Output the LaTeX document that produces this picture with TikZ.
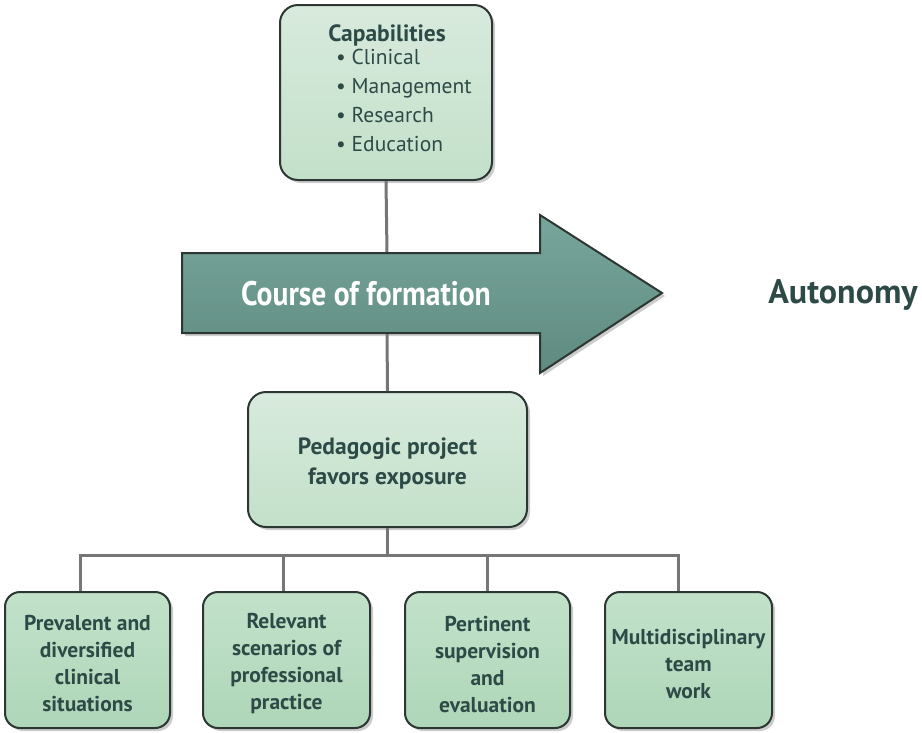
\documentclass[tikz,border=0pt]{standalone}
\usepackage{fontspec}
\setmainfont{PT Sans}
\usetikzlibrary{shadows}
\definecolor{boxtop}{HTML}{D8EADD}
\definecolor{boxbot}{HTML}{C3E0CA}
\definecolor{greentop}{HTML}{C2E2CA}
\definecolor{greenbot}{HTML}{AED6B8}
\definecolor{edge}{HTML}{2C3633}
\definecolor{ink}{HTML}{2D4A46}
\definecolor{arrowtop}{HTML}{79A69C}
\definecolor{arrowbot}{HTML}{5E8A80}
\definecolor{linegray}{HTML}{767676}
\begin{document}
\begin{tikzpicture}[x=1pt,y=-1pt,
  card/.style={draw=edge, line width=2pt, rounded corners=18pt,
    top color=boxtop, bottom color=boxbot,
    drop shadow={shadow xshift=3pt,shadow yshift=-3pt,opacity=0.4}},
  leaf/.style={card, top color=greentop, bottom color=greenbot, rounded corners=15pt,
    minimum width=165pt, minimum height=136pt, inner sep=0pt},
  leaftext/.style={text=ink, align=center, font=\fontsize{21.5}{27}\selectfont\bfseries},
  conn/.style={draw=linegray, line width=3pt}]
\useasboundingbox (0,0) rectangle (922,732);

% connector coordinates
\coordinate (atop) at (387,253);
\coordinate (abot) at (387,333);
\coordinate (j1) at (80,555);
\coordinate (j2) at (283,555);
\coordinate (j3) at (487,555);
\coordinate (j4) at (678,555);

% top box
\node[card, minimum width=212pt, minimum height=175pt, inner sep=0pt] (cap) at (386,92.5) {};
\node[text=ink, font=\fontsize{23.5}{26}\selectfont\bfseries] (capt) at (387,35) {Capabilities};
\node[text=ink, font=\fontsize{21.5}{29}\selectfont, align=left, anchor=north west, inner sep=0pt] (capl) at (336,49)
  {• Clinical\\• Management\\• Research\\• Education};

% middle box
\node[card, minimum width=279pt, minimum height=135pt, inner sep=0pt] (ped) at (387.5,459.5) {};
\node[text=ink, align=center, font=\fontsize{23.5}{30}\selectfont\bfseries] (pedt) at (387.5,463)
  {Pedagogic project\\favors exposure};

% bottom boxes
\node[leaf] (b1) at (87.5,660) {};
\node[leaf, minimum width=167pt] (b2) at (286.5,660) {};
\node[leaf] (b3) at (487.5,660) {};
\node[leaf, minimum width=167pt] (b4) at (688.5,660) {};
\node[leaftext] (t1) at (87.5,664) {Prevalent and\\diversified\\clinical\\situations};
\node[leaftext] (t2) at (286.5,664) {Relevant\\scenarios of\\professional\\practice};
\node[leaftext] (t3) at (487.5,664) {Pertinent\\supervision\\and\\evaluation};
\node[leaftext] (t4) at (688.5,664) {Multidisciplinary\\team\\work};

% lines
\draw[conn] (cap.south) -- (atop);
\draw[conn] (abot) -- (ped.north);
\draw[conn] (ped.south) -- (ped.south |- j1);
\draw[conn] ([xshift=-1.5pt]j1) -- ([xshift=1.5pt]j4);
\draw[conn] (j1) -- (j1 |- b1.north);
\draw[conn] (j2) -- (j2 |- b2.north);
\draw[conn] (j3) -- (j3 |- b3.north);
\draw[conn] (j4) -- (j4 |- b4.north);

% big arrow
\path[draw=edge, line width=2pt, line join=miter, top color=arrowtop, bottom color=arrowbot,
  drop shadow={shadow xshift=3pt,shadow yshift=-3pt,opacity=0.4}]
  (182,253) -- (540,253) -- (540,215) -- (662,293) -- (540,373) -- (540,333) -- (182,333) -- cycle;
\node[text=white, font=\fontsize{34}{38}\selectfont\bfseries] (course) at (366,294)
  {\scalebox{0.87}[1]{Course of formation}};
\node[text=ink, font=\fontsize{34}{38}\selectfont\bfseries] (auto) at (843,295)
  {Autonomy};
\end{tikzpicture}
\end{document}
